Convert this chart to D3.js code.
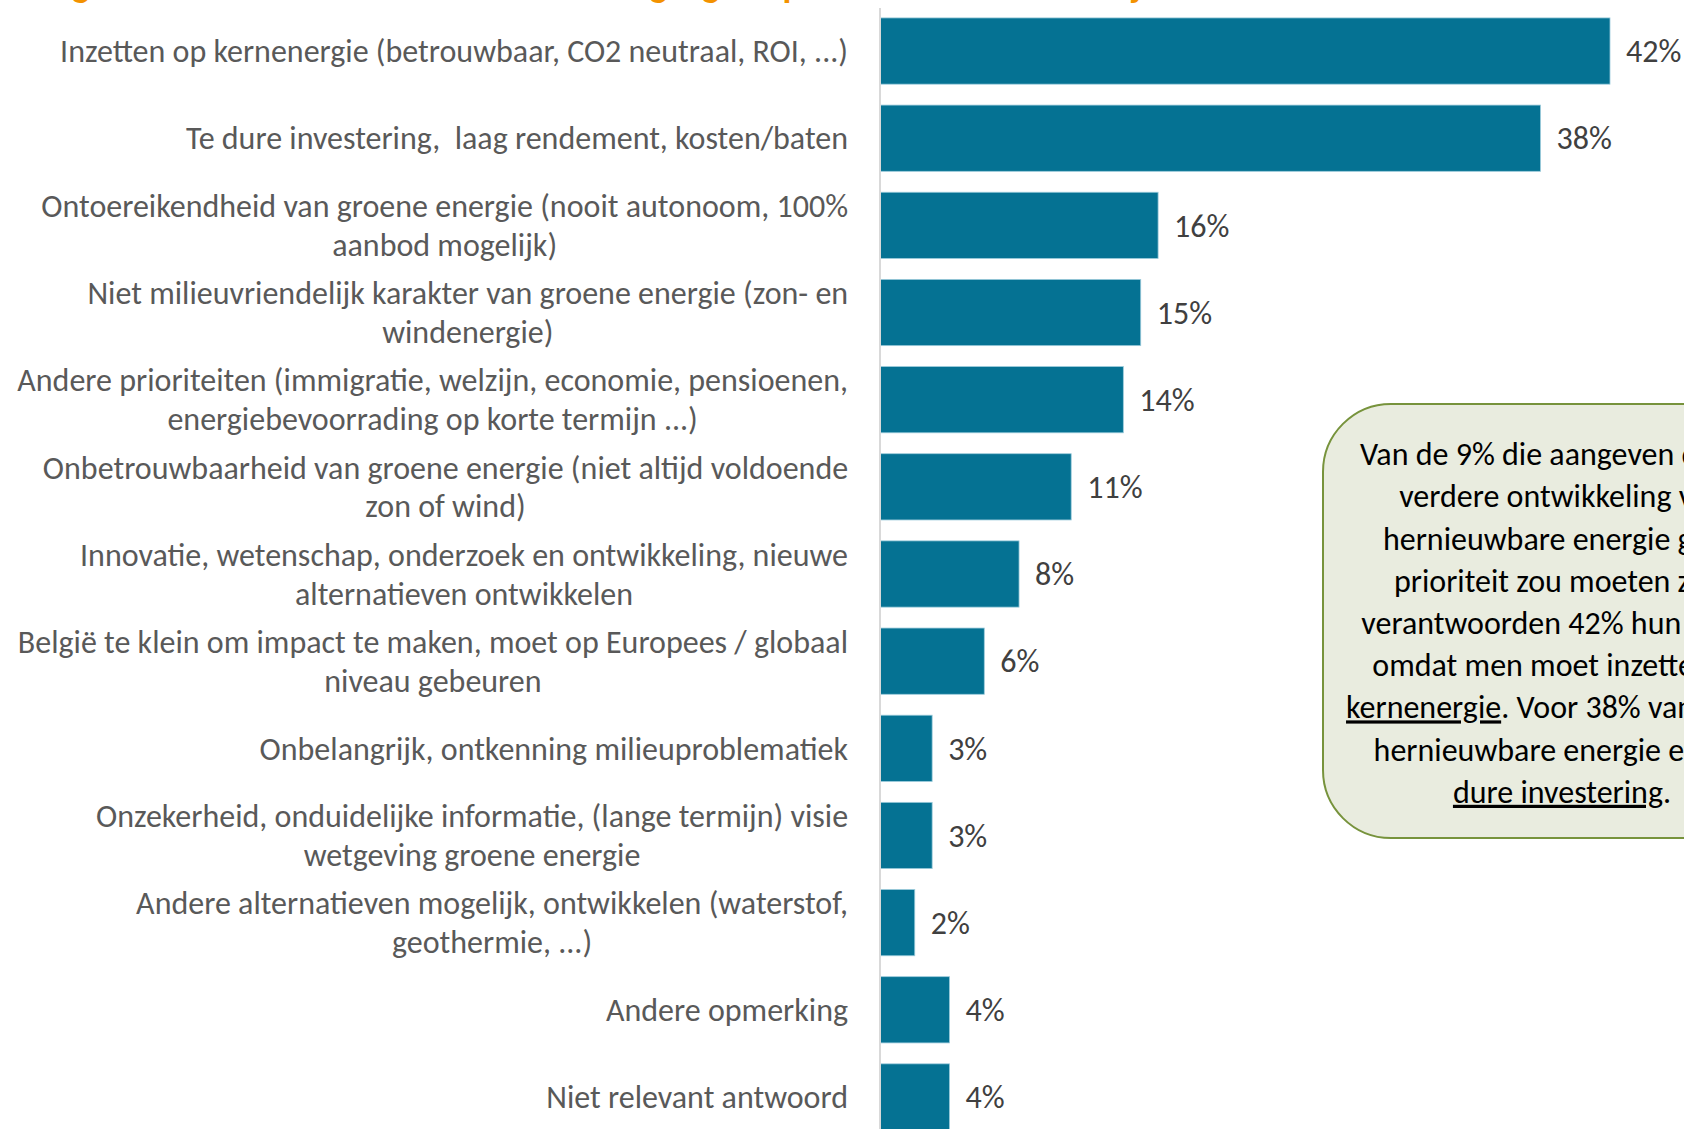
<!DOCTYPE html>
<meta charset="UTF-8">
<style>
  body { margin: 0; background: #fff; overflow: hidden; }
  svg { display: block; }
  .cat text { font: 32px Carlito, Calibri, Lato, sans-serif; fill: #595959; white-space: pre; }
  .val { font: 32px Carlito, Calibri, Lato, sans-serif; fill: #404040; }
  .note text { font: 32px Carlito, Calibri, Lato, sans-serif; fill: #000; }
  .title { font: bold 36px Carlito, Calibri, Lato, sans-serif; fill: #f39200; }
</style>
<body>
<svg id="chart" width="1684" height="1129"></svg>

<script src="https://cdnjs.cloudflare.com/ajax/libs/d3/7.8.5/d3.min.js"></script>
<script>

// categories, wrapped the way the original slide wraps them
var categories = [
  "Inzetten op kernenergie (betrouwbaar, CO2 neutraal, ROI, ...)",
  "Te dure investering,  laag rendement, kosten/baten",
  "Ontoereikendheid van groene energie (nooit autonoom, 100%\naanbod mogelijk)",
  "Niet milieuvriendelijk karakter van groene energie (zon- en\nwindenergie)",
  "Andere prioriteiten (immigratie, welzijn, economie, pensioenen,\nenergiebevoorrading op korte termijn ...)",
  "Onbetrouwbaarheid van groene energie (niet altijd voldoende\nzon of wind)",
  "Innovatie, wetenschap, onderzoek en ontwikkeling, nieuwe\nalternatieven ontwikkelen",
  "België te klein om impact te maken, moet op Europees / globaal\nniveau gebeuren",
  "Onbelangrijk, ontkenning milieuproblematiek",
  "Onzekerheid, onduidelijke informatie, (lange termijn) visie\nwetgeving groene energie",
  "Andere alternatieven mogelijk, ontwikkelen (waterstof,\ngeothermie, ...)",
  "Andere opmerking",
  "Niet relevant antwoord"
];
var values = [0.42, 0.38, 0.16, 0.15, 0.14, 0.11, 0.08, 0.06, 0.03, 0.03, 0.02, 0.04, 0.04];

// callout text: each line is a list of [text, underlined]
var noteLines = [
  [["Van de 9% die aangeven dat de", false]],
  [["verdere ontwikkeling van", false]],
  [["hernieuwbare energie geen", false]],
  [["prioriteit zou moeten zijn,", false]],
  [["verantwoorden 42% hun keuze", false]],
  [["omdat men moet inzetten op", false]],
  [["kernenergie", true], [". Voor 38% van hen is", false]],
  [["hernieuwbare energie een te", false]],
  [["dure investering", true], [".", false]]
];

var titleText = "Argumenten waarom hernieuwbare energie geen prioriteit zou moeten zijn";

var svg = d3.select("#chart");

var x0 = 880,
    labelRight = 848;

var x = d3.scaleLinear()
    .domain([0, 0.42])
    .range([0, 730]);

var y = d3.scaleBand()
    .domain(categories)
    .range([-3, 1151])
    .paddingInner(0.24)
    .paddingOuter(0.24);

// title, mostly cut off at the top like in the screenshot
svg.append("text")
    .attr("class", "title")
    .attr("x", 38)
    .attr("y", -3)
    .text(titleText);

// bars
svg.append("g")
  .selectAll("rect")
  .data(values)
  .enter().append("rect")
    .attr("x", x0)
    .attr("y", function(d, i) { return y(categories[i]); })
    .attr("width", function(d) { return x(d); })
    .attr("height", y.bandwidth())
    .attr("fill", "#057293")
    .attr("stroke", "#9ccbdb")
    .attr("stroke-width", 0.8);

// axis line
svg.append("line")
    .attr("x1", x0).attr("x2", x0)
    .attr("y1", 8).attr("y2", 1129)
    .attr("stroke", "#d9d9d9")
    .attr("stroke-width", 2);

// value labels
svg.append("g")
  .selectAll("text")
  .data(values)
  .enter().append("text")
    .attr("class", "val")
    .attr("x", function(d) { return x0 + x(d) + 16; })
    .attr("y", function(d, i) { return y(categories[i]) + y.bandwidth() / 2; })
    .attr("dy", "0.35em")
    .text(function(d) { return Math.round(d * 100) + "%"; });

// category labels: block right-aligned to the axis, lines centred in the block
var lineH = 38.8;
var cat = svg.append("g").attr("class", "cat")
  .selectAll("text")
  .data(categories)
  .enter().append("text")
    .attr("text-anchor", "middle")
    .attr("y", function(d) { return y(d) + y.bandwidth() / 2; });

cat.each(function(d) {
  var lines = d.split("\n");
  var t = d3.select(this);
  var spans = lines.map(function(l, j) {
    return t.append("tspan")
      .attr("dy", j === 0 ? ((-(lines.length - 1) / 2) * lineH / 32 + 0.35) + "em" : (lineH / 32) + "em")
      .text(l);
  });
  var w = d3.max(spans, function(s) { return s.node().getComputedTextLength(); });
  spans.forEach(function(s) { s.attr("x", labelRight - w / 2); });
});

// callout box
var note = svg.append("g").attr("class", "note");
note.append("rect")
    .attr("x", 1323)
    .attr("y", 404)
    .attr("width", 478)
    .attr("height", 434)
    .attr("rx", 68)
    .attr("fill", "#e9ecdf")
    .attr("stroke", "#77933c")
    .attr("stroke-width", 2);

var noteText = note.append("text")
    .attr("text-anchor", "middle");

noteLines.forEach(function(parts, i) {
  var line = noteText.append("tspan")
      .attr("x", 1562)
      .attr("y", 454 + i * 42.2)
      .attr("dy", "0.35em");
  parts.forEach(function(p) {
    line.append("tspan")
        .attr("text-decoration", p[1] ? "underline" : null)
        .text(p[0]);
  });
});

</script>
</body>
